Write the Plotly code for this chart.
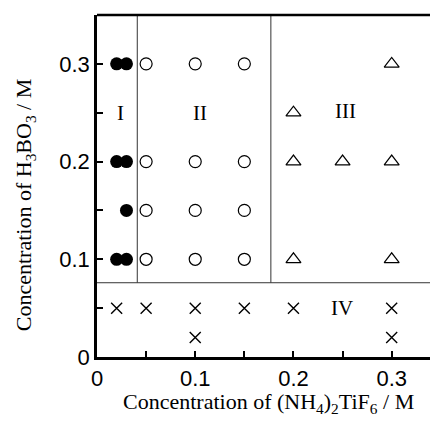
import plotly.graph_objects as go

# Region I (filled circles)
r1_x = [0.02, 0.03, 0.02, 0.03, 0.03, 0.02, 0.03]
r1_y = [0.30, 0.30, 0.20, 0.20, 0.15, 0.10, 0.10]
# Region II (open circles)
r2_x = [0.05, 0.10, 0.15, 0.05, 0.10, 0.15, 0.05, 0.10, 0.15, 0.05, 0.10, 0.15]
r2_y = [0.30, 0.30, 0.30, 0.20, 0.20, 0.20, 0.15, 0.15, 0.15, 0.10, 0.10, 0.10]
# Region III (triangles)
r3_x = [0.30, 0.20, 0.20, 0.25, 0.30, 0.20, 0.30]
r3_y = [0.30, 0.25, 0.20, 0.20, 0.20, 0.10, 0.10]
# Region IV (crosses)
r4_x = [0.02, 0.05, 0.10, 0.15, 0.20, 0.30, 0.10, 0.30]
r4_y = [0.05, 0.05, 0.05, 0.05, 0.05, 0.05, 0.02, 0.02]

# Region boundaries
boundary_x1 = 0.041
boundary_x2 = 0.177
boundary_y = 0.076

region_labels = ["I", "II", "III", "IV"]
label_x = [0.024, 0.105, 0.253, 0.249]
label_y = [0.25, 0.25, 0.252, 0.05]

tick_vals = [0, 0.1, 0.2, 0.3]
tick_text = ["0", "0.1", "0.2", "0.3"]
minor_tick_step = 0.05

fig = go.Figure()
fig.add_trace(go.Scatter(x=r1_x, y=r1_y, mode="markers",
                         marker=dict(symbol="circle", size=13, color="black")))
fig.add_trace(go.Scatter(x=r2_x, y=r2_y, mode="markers",
                         marker=dict(symbol="circle-open", size=12, color="black",
                                     line=dict(width=1.2, color="black"))))
fig.add_trace(go.Scatter(x=r3_x, y=r3_y, mode="markers",
                         marker=dict(symbol="triangle-up-open", size=13, color="black",
                                     line=dict(width=1.2, color="black"))))
fig.add_trace(go.Scatter(x=r4_x, y=r4_y, mode="markers",
                         marker=dict(symbol="x-thin-open", size=11, color="black",
                                     line=dict(width=1.4, color="black"))))

line_style = dict(color="#333333", width=1)
fig.add_shape(type="line", x0=boundary_x1, x1=boundary_x1, y0=boundary_y, y1=0.35,
              xref="x", yref="y", line=line_style)
fig.add_shape(type="line", x0=boundary_x2, x1=boundary_x2, y0=boundary_y, y1=0.35,
              xref="x", yref="y", line=line_style)
fig.add_shape(type="line", x0=0, x1=0.34, y0=boundary_y, y1=boundary_y,
              xref="x", yref="y", line=line_style)

for t, lx, ly in zip(region_labels, label_x, label_y):
    fig.add_annotation(x=lx, y=ly, text=t, showarrow=False,
                       font=dict(family="Liberation Serif", size=21, color="black"))

axis_common = dict(
    tickvals=tick_vals, ticktext=tick_text, ticks="inside", ticklen=6, tickwidth=2,
    tickcolor="black", showline=True, linewidth=2.5, linecolor="black",
    showgrid=False, zeroline=False,
    minor=dict(ticks="inside", dtick=minor_tick_step, tick0=0, ticklen=6,
               tickwidth=2, tickcolor="black", showgrid=False),
    tickfont=dict(family="Liberation Sans", size=22, color="black"),
)

fig.update_xaxes(range=[0, 0.339], mirror=False, **axis_common)
fig.update_yaxes(range=[0, 0.35], mirror=False, **axis_common)

title_font = dict(family="Liberation Serif", size=22, color="black")
fig.add_annotation(x=0.514, y=-0.135, xref="paper", yref="paper", showarrow=False,
                   text="Concentration of (NH<sub>4</sub>)<sub>2</sub>TiF<sub>6</sub> / M",
                   font=title_font, xanchor="center", yanchor="middle")
fig.add_annotation(x=-0.216, y=0.444, xref="paper", yref="paper", showarrow=False,
                   text="Concentration of H<sub>3</sub>BO<sub>3</sub> / M",
                   textangle=-90, font=title_font, xanchor="center", yanchor="middle")

# top border line
fig.add_shape(type="line", x0=0, x1=1, y0=1, y1=1, xref="x domain", yref="y domain",
              line=dict(color="black", width=2.5))

fig.update_layout(
    width=430, height=423,
    margin=dict(l=97, r=0, t=15, b=66),
    plot_bgcolor="white", paper_bgcolor="white",
    showlegend=False,
)

fig.write_html("out.html", config={"displayModeBar": False},
               post_script="document.body.style.margin='0px';document.body.style.overflow='hidden';")
